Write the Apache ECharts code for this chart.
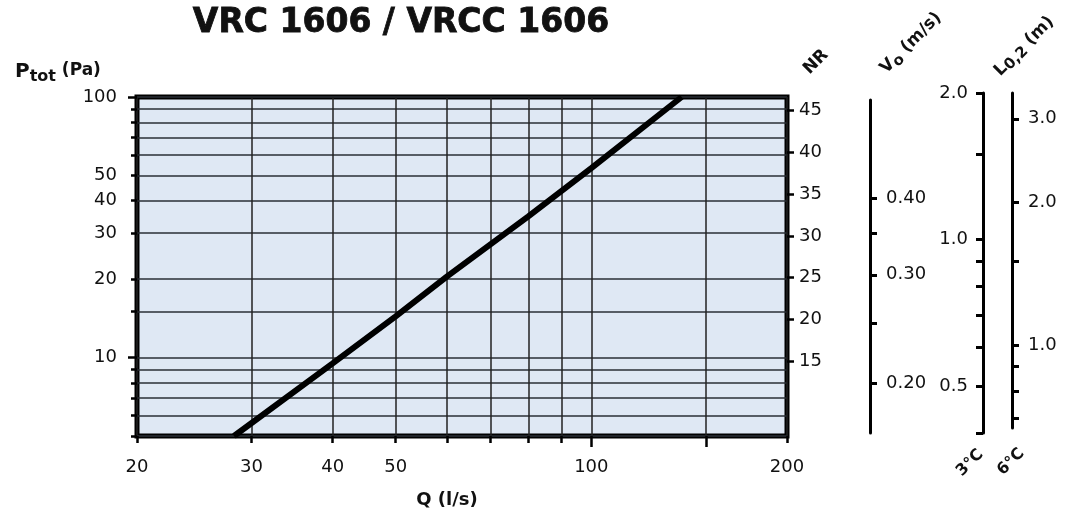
<!DOCTYPE html>
<html>
<head>
<meta charset="utf-8">
<script src="https://cdn.jsdelivr.net/npm/echarts@6/dist/echarts.min.js"></script>
<style>
html,body{margin:0;padding:0;background:#fff;}
#chart{width:1072px;height:513px;}
</style>
</head>
<body>
<div id="chart"></div>
<script>
// ---- data ----
const flowQ     = [28.2, 40, 50, 60, 80, 100, 137.7];      // Q (l/s)
const pressure  = [5, 9.5, 14.4, 20.5, 34.8, 53.3, 100];   // Ptot (Pa)

const xRange = [20, 200];
const xTicks = [20, 30, 40, 50, 60, 70, 80, 90, 100, 150, 200];
const xMajorTicks = [100, 150];
const xLabels = [20, 30, 40, 50, 100, 200];

const yRange = [5, 100];
const yTicks = [5, 6, 7, 8, 9, 10, 15, 20, 30, 40, 50, 60, 70, 80, 90, 100];
const yMajorTicks = [10, 100];
const yLabels = [10, 20, 30, 40, 50, 100];

const nrRange = [6.03, 46.64];
const nrTicks = [15, 20, 25, 30, 35, 40, 45];

const vRange = [0.166, 0.577];
const vTicks = [0.20, 0.25, 0.30, 0.35, 0.40];
const vLabels = [0.20, 0.30, 0.40];

const l3Range = [0.4, 2.0];
const l3Ticks = [0.4, 0.5, 0.6, 0.7, 0.8, 0.9, 1.0, 1.5, 2.0];
const l3Labels = [0.5, 1.0, 2.0];

const l6Range = [0.668, 3.40];
const l6Ticks = [0.7, 0.8, 0.9, 1.0, 1.5, 2.0, 3.0];
const l6Labels = [1.0, 2.0, 3.0];

// ---- chart ----
const FONT = 'DejaVu Sans';
const TXT = '#111';
const chart = echarts.init(document.getElementById('chart'), null, {renderer: 'canvas'});

const labelStyle = {fontFamily: FONT, fontSize: 18, color: TXT};
const hidden = {type: 'value', show: false, min: 0, max: 1};

function sideAxis(gridIndex, range, ticks, labels, position, digits) {
  return {
    type: 'log', gridIndex: gridIndex, position: position,
    min: range[0], max: range[1],
    axisLine: {show: true, lineStyle: {color: '#000', width: 3}},
    axisTick: {show: true, customValues: ticks, length: 7, lineStyle: {color: '#000', width: 3}},
    axisLabel: Object.assign({show: true, customValues: labels, margin: 15,
      formatter: v => Number(v).toFixed(digits)}, labelStyle),
    splitLine: {show: false}
  };
}

const option = {
  animation: false,
  backgroundColor: '#fff',
  grid: [
    {left: 137, top: 97, width: 650, height: 339, show: true,
     backgroundColor: '#dfe8f4', borderColor: '#000', borderWidth: 5, outerBoundsMode: 'none'},
    {left: 870, top: 100, width: 1, height: 333, outerBoundsMode: 'none'},
    {left: 983, top: 93, width: 1, height: 340, outerBoundsMode: 'none'},
    {left: 1012, top: 93, width: 1, height: 335, outerBoundsMode: 'none'}
  ],
  xAxis: [
    {type: 'log', gridIndex: 0, position: 'bottom', min: xRange[0], max: xRange[1],
     axisLine: {show: false},
     axisTick: {show: true, customValues: xTicks, length: 7, lineStyle: {color: '#000', width: 2.5}},
     axisLabel: Object.assign({show: true, customValues: xLabels, margin: 22,
       formatter: v => String(Math.round(v))}, labelStyle),
     splitLine: {show: true, lineStyle: {color: '#222', width: 1.5}}},
    {type: 'log', gridIndex: 0, position: 'bottom', min: xRange[0], max: xRange[1],
     axisLine: {show: false},
     axisTick: {show: true, customValues: xMajorTicks, length: 11, lineStyle: {color: '#000', width: 2.5}},
     axisLabel: {show: false}, splitLine: {show: false}},
    Object.assign({gridIndex: 1}, hidden),
    Object.assign({gridIndex: 2}, hidden),
    Object.assign({gridIndex: 3}, hidden)
  ],
  yAxis: [
    {type: 'log', gridIndex: 0, position: 'left', min: yRange[0], max: yRange[1],
     axisLine: {show: false},
     axisTick: {show: true, customValues: yTicks, length: 6, lineStyle: {color: '#000', width: 2.5}},
     axisLabel: Object.assign({show: true, customValues: yLabels, margin: 20,
       formatter: v => String(Math.round(v))}, labelStyle),
     splitLine: {show: true, lineStyle: {color: '#2a2f36', width: 1.5}}},
    {type: 'log', gridIndex: 0, position: 'left', min: yRange[0], max: yRange[1],
     axisLine: {show: false},
     axisTick: {show: true, customValues: yMajorTicks, length: 9, lineStyle: {color: '#000', width: 2.5}},
     axisLabel: {show: false}, splitLine: {show: false}},
    {type: 'value', gridIndex: 0, position: 'right', min: nrRange[0], max: nrRange[1],
     axisLine: {show: false},
     axisTick: {show: true, customValues: nrTicks, length: 7, lineStyle: {color: '#000', width: 2.5}},
     axisLabel: Object.assign({show: true, customValues: nrTicks, margin: 12,
       formatter: v => String(Math.round(v))}, labelStyle),
     splitLine: {show: false}},
    sideAxis(1, vRange, vTicks, vLabels, 'right', 2),
    sideAxis(2, l3Range, l3Ticks, l3Labels, 'left', 1),
    sideAxis(3, l6Range, l6Ticks, l6Labels, 'right', 1)
  ],
  series: [
    {type: 'line', xAxisIndex: 0, yAxisIndex: 0, symbol: 'none', silent: true,
     data: flowQ.map((q, i) => [q, pressure[i]]),
     lineStyle: {color: '#000', width: 6}, z: 5}
  ],
  graphic: [
    {type: 'text', x: 401, y: 23, style: {text: 'VRC 1606 / VRCC 1606', fontFamily: FONT,
      fontWeight: 'bold', fontSize: 33, fill: TXT, align: 'center', verticalAlign: 'middle',
      stroke: TXT, lineWidth: 0.8}},
    {type: 'text', x: 15, y: 73, style: {
      text: '{p|P}{s|tot}{u| (Pa)}', align: 'left', verticalAlign: 'middle',
      rich: {
        p: {fontFamily: FONT, fontWeight: 'bold', fontSize: 20, fill: TXT, verticalAlign: 'top'},
        s: {fontFamily: FONT, fontWeight: 'bold', fontSize: 16, fill: TXT, verticalAlign: 'top', padding: [7, 0, 0, 0]},
        u: {fontFamily: FONT, fontWeight: 'bold', fontSize: 17, fill: TXT, verticalAlign: 'top', padding: [1, 0, 0, 0]}
      }}},
    {type: 'text', x: 447, y: 500, style: {text: 'Q (l/s)', fontFamily: FONT, fontWeight: 'bold',
      fontSize: 18, fill: TXT, align: 'center', verticalAlign: 'middle'}},
    {type: 'text', x: 816, y: 62, rotation: Math.PI / 4, style: {text: 'NR', fontFamily: FONT,
      fontWeight: 'bold', fontSize: 17, fill: TXT, align: 'center', verticalAlign: 'middle'}},
    {type: 'text', x: 912, y: 44, rotation: Math.PI / 4, style: {
      text: '{m|V}{s|o}{m| (m/s)}', align: 'center', verticalAlign: 'middle',
      rich: {
        m: {fontFamily: FONT, fontWeight: 'bold', fontSize: 17, fill: TXT, verticalAlign: 'top'},
        s: {fontFamily: FONT, fontWeight: 'bold', fontSize: 15, fill: TXT, verticalAlign: 'top', padding: [5, 0, 0, 0]}
      }}},
    {type: 'text', x: 1025, y: 47, rotation: Math.PI / 4, style: {
      text: '{m|L}{s|0,2}{m| (m)}', align: 'center', verticalAlign: 'middle',
      rich: {
        m: {fontFamily: FONT, fontWeight: 'bold', fontSize: 17, fill: TXT, verticalAlign: 'top'},
        s: {fontFamily: FONT, fontWeight: 'bold', fontSize: 15, fill: TXT, verticalAlign: 'top', padding: [4, 0, 0, 0]}
      }}},
    {type: 'text', x: 970, y: 463, rotation: Math.PI / 4, style: {text: '3°C', fontFamily: FONT,
      fontWeight: 'bold', fontSize: 16, fill: TXT, align: 'center', verticalAlign: 'middle'}},
    {type: 'text', x: 1011, y: 462, rotation: Math.PI / 4, style: {text: '6°C', fontFamily: FONT,
      fontWeight: 'bold', fontSize: 16, fill: TXT, align: 'center', verticalAlign: 'middle'}}
  ]
};
chart.setOption(option);
</script>
</body>
</html>
